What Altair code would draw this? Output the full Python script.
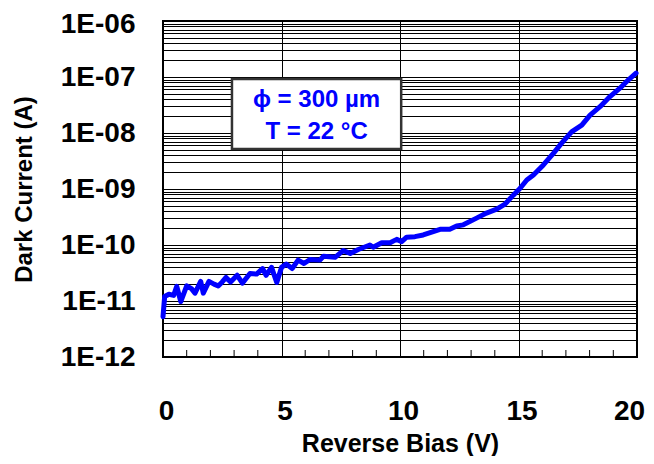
import altair as alt
import pandas as pd

# Reverse bias (V) and dark current (A)
bias = [0.0, 0.07, 0.25, 0.45, 0.58, 0.75, 1.0, 1.2, 1.35, 1.59, 1.7, 1.94, 2.15, 2.33,
        2.5, 2.66, 2.85, 3.13, 3.35, 3.67, 3.95, 4.2, 4.35, 4.58, 4.8, 5.0, 5.2, 5.45,
        5.7, 5.95, 6.2, 6.62, 6.77, 7.26, 7.6, 7.9, 8.24, 8.73, 8.87, 9.23, 9.58, 9.86,
        10.07, 10.28, 10.63, 10.98, 11.4, 11.69, 12.1, 12.39, 12.67, 13.23, 13.65, 14.08,
        14.43, 14.78, 15.06, 15.35, 15.63, 16.05, 16.48, 16.82, 17.24, 17.67, 18.02,
        18.44, 18.86, 19.28, 19.64, 19.96]
current = [5.25e-12, 1.20e-11, 1.32e-11, 1.26e-11, 1.82e-11, 9.8e-12, 1.86e-11, 1.66e-11,
           1.38e-11, 2.24e-11, 1.38e-11, 2.24e-11, 2.0e-11, 1.86e-11, 2.19e-11, 2.63e-11,
           2.19e-11, 2.88e-11, 2.09e-11, 3.09e-11, 3.02e-11, 3.8e-11, 2.88e-11, 3.98e-11,
           2.14e-11, 3.98e-11, 4.57e-11, 3.8e-11, 5.37e-11, 4.68e-11, 5.5e-11, 5.37e-11,
           6.31e-11, 6.03e-11, 7.94e-11, 7.08e-11, 8.32e-11, 1.0e-10, 9.12e-11, 1.10e-10,
           1.10e-10, 1.26e-10, 1.15e-10, 1.38e-10, 1.41e-10, 1.51e-10, 1.74e-10, 1.91e-10,
           1.91e-10, 2.19e-10, 2.29e-10, 3.02e-10, 3.72e-10, 4.37e-10, 5.37e-10, 7.76e-10,
           1.02e-9, 1.45e-9, 1.78e-9, 2.69e-9, 4.37e-9, 6.61e-9, 1.05e-8, 1.38e-8, 2.09e-8,
           2.95e-8, 4.47e-8, 6.31e-8, 8.91e-8, 1.17e-7]

x_major = [0, 5, 10, 15, 20]
x_minor = [v for v in range(1, 20) if v % 5 != 0]
decades = [1e-12, 1e-11, 1e-10, 1e-9, 1e-8, 1e-7, 1e-6]
y_grid = sorted(decades + [m * d for d in decades[:-1] for m in range(2, 10)])

# annotation box (data coordinates) and its text
box_x = [2.91, 10.05]
box_y = [9.2e-8, 5.2e-9]
note_lines = ["ϕ = 300 µm", "T = 22 °C"]
note_x = [6.48, 6.48]
note_y = [3.9e-8, 1.05e-8]

FONT = "Liberation Sans"

df = pd.DataFrame({"V": bias, "I": current})
xs = alt.Scale(domain=[0, 20], nice=False, zero=False)
ys = alt.Scale(type="log", domain=[1e-12, 1e-6], nice=False)

label_expr = ("abs(log(datum.value)/LN10 - round(log(datum.value)/LN10)) < 0.01 ? "
              "'1E-' + format(-round(log(datum.value)/LN10), '02d') : ''")

xaxis = alt.Axis(
    values=x_major, grid=True, gridColor="black", gridOpacity=1, gridWidth=1,
    ticks=False, domain=False, labelFlush=False, labelPadding=40,
    labelOffset={"condition": {"test": "datum.value == 20", "value": -8}, "value": 3},
    labelFont=FONT, labelFontSize=28, labelFontWeight="bold", labelColor="black",
    title="Reverse Bias (V)", titleFont=FONT, titleFontSize=25, titleFontWeight="bold",
    titleColor="black", titlePadding=6)
yaxis = alt.Axis(
    values=y_grid, labelExpr=label_expr, grid=True, gridColor="black", gridOpacity=1,
    gridWidth=1, ticks=False, domain=False, labelOverlap=False, labelPadding=28,
    labelOffset={"condition": {"test": "datum.value > 9e-7", "value": 3}, "value": 0},
    labelFont=FONT, labelFontSize=28, labelFontWeight="bold", labelColor="black",
    title="Dark Current (A)", titleFont=FONT, titleFontSize=24, titleFontWeight="bold",
    titleColor="black", titlePadding=24)

line = alt.Chart(df).mark_line(color="#0000FF", strokeWidth=5, strokeJoin="round", strokeCap="round").encode(
    x=alt.X("V:Q", scale=xs, axis=xaxis),
    y=alt.Y("I:Q", scale=ys, axis=yaxis),
)

ticks = alt.Chart(pd.DataFrame({"V": x_minor})).mark_rule(color="black", strokeWidth=1).encode(
    x=alt.X("V:Q", scale=xs, axis=xaxis),
    y=alt.value(336), y2=alt.value(329),
)

box = alt.Chart(pd.DataFrame({"V": [box_x[0]], "V2": [box_x[1]], "I": [box_y[0]], "I2": [box_y[1]]})).mark_rect(
    fill="white", stroke="#333333", strokeWidth=2.5
).encode(
    x=alt.X("V:Q", scale=xs, axis=xaxis), x2="V2:Q",
    y=alt.Y("I:Q", scale=ys, axis=yaxis), y2="I2:Q",
)

note = alt.Chart(pd.DataFrame({"t": note_lines, "V": note_x, "I": note_y})).mark_text(
    font=FONT, fontSize=24, fontWeight="bold", color="#0000FF", baseline="middle", align="center"
).encode(
    x=alt.X("V:Q", scale=xs, axis=xaxis),
    y=alt.Y("I:Q", scale=ys, axis=yaxis),
    text="t:N",
)

chart = alt.layer(ticks, line, box, note).properties(
    width=474, height=336,
    background="white",
    autosize=alt.AutoSizeParams(type="none"),
    padding={"left": 155, "top": 13, "right": 9, "bottom": 99},
).configure_view(stroke="black", strokeWidth=2)

chart.save("out.html", embed_options={"renderer": "svg", "actions": False})
